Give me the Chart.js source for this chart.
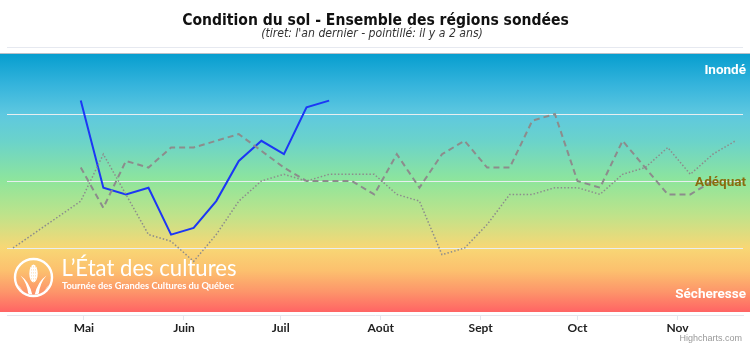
<!DOCTYPE html>
<html><head><meta charset="utf-8">
<script src="https://cdn.jsdelivr.net/npm/chart.js@4/dist/chart.umd.min.js"></script>
<style>html,body{margin:0;padding:0;background:#fff}canvas{display:block}</style>
</head><body>
<canvas id="c" width="750" height="343"></canvas>
<script>
// ---- data ----
const monthStarts = ['05-01','06-01','07-01','08-01','09-01','10-01','11-01'];
const monthLabels = ['Mai','Juin','Juil','Août','Sept','Oct','Nov'];
const weekDates = ['04-30','05-07','05-14','05-21','05-28','06-04','06-11','06-18','06-25','07-02',
  '07-09','07-16','07-23','07-30','08-06','08-13','08-20','08-27','09-03','09-10',
  '09-17','09-24','10-01','10-08','10-15','10-22','10-29','11-05','11-12','11-19'];
const twoYearsAgoDates = ['04-09'].concat(weekDates);
const thisYear = [3.2,1.9,1.8,1.9,1.2,1.3,1.7,2.3,2.6,2.4,3.1,3.2];
const lastYear = [2.2,1.6,2.3,2.2,2.5,2.5,2.6,2.7,2.45,2.2,2.0,2.0,2.0,1.8,2.4,1.9,2.4,2.6,2.2,2.2,2.9,3.0,2.0,1.9,2.6,2.2,1.8,1.8,2.0];
const twoYearsAgo = [1.0,1.7,2.4,1.8,1.2,1.1,0.8,1.2,1.7,2.0,2.1,2.0,2.1,2.1,2.1,1.8,1.7,0.9,1.0,1.35,1.8,1.8,1.9,1.9,1.8,2.1,2.2,2.5,2.1,2.4,2.6];
const bandLabels = [{text:'Inondé', value:3.64, color:'#ffffff'},{text:'Adéquat', value:1.97, color:'#8a6b10'},{text:'Sécheresse', value:0.30, color:'#ffffff'}];
const titleText = 'Condition du sol - Ensemble des régions sondées';
const subtitleText = "(tiret: l'an dernier - pointillé: il y a 2 ans)";

// ---- helpers ----
const cum = [0,31,59,90,120,151,181,212,243,273,304,334];
function dayOf(s){const [m,d]=s.split('-').map(Number);return cum[m-1]+d-1;}
const monthDays = monthStarts.map(dayOf);
function pts(dates, vals){return vals.map((v,i)=>({x:dayOf(dates[i]), y:v}));}

function fitSize(ctx, text, style, weight, family, target){
  ctx.font = `${style} ${weight} 20px ${family}`;
  return 20*target/ctx.measureText(text).width;
}
const condFamily = '"DejaVu Sans Condensed", "DejaVu Sans", sans-serif';

const deco = {
  id:'deco',
  beforeDraw(chart){
    const {ctx, chartArea:a} = chart;
    ctx.save();
    ctx.fillStyle = '#fff'; ctx.fillRect(0,0,chart.width,chart.height);
    const top = a.top+7, bot = a.bottom-3;
    const g = ctx.createLinearGradient(0, top, 0, bot);
    g.addColorStop(0, '#079ecf');
    g.addColorStop(0.12, '#35b4dc');
    g.addColorStop(0.233, '#5ec8e0');
    g.addColorStop(0.34, '#6bd3ca');
    g.addColorStop(0.49, '#8ee59c');
    g.addColorStop(0.62, '#bde38b');
    g.addColorStop(0.752, '#f8d775');
    g.addColorStop(0.84, '#fcc06e');
    g.addColorStop(0.92, '#fd966a');
    g.addColorStop(1, '#ff6464');
    ctx.fillStyle = g; ctx.fillRect(0, top, chart.width, bot-top);
    ctx.fillStyle = '#b9c0c8'; ctx.fillRect(0, top-1, chart.width, 1);
    ctx.restore();
  },
  beforeDatasetsDraw(chart){
    const {ctx} = chart;
    ctx.save();
    // logo circle
    const cx=33.5, cy=277.5, r=18.5;
    ctx.strokeStyle='#fff'; ctx.fillStyle='#fff'; ctx.lineWidth=2.4;
    ctx.beginPath(); ctx.arc(cx,cy,r,0,Math.PI*2); ctx.stroke();
    ctx.save();
    ctx.beginPath(); ctx.arc(cx,cy,r-1.5,0,Math.PI*2); ctx.clip();
    ctx.beginPath(); ctx.ellipse(cx, cy-4, 4.2, 9, 0, 0, Math.PI*2); ctx.fill();
    ctx.fillStyle='rgba(250,190,110,0.9)';
    for(let yy=-11; yy<=4; yy+=3){ for(let xx=-2; xx<=2; xx+=2){ ctx.fillRect(cx+xx-0.4, cy+yy, 0.8, 0.8);} }
    ctx.fillStyle='#fff';
    ctx.beginPath(); ctx.moveTo(cx-1, cy+18); ctx.quadraticCurveTo(cx-4, cy+4, cx-13, cy-2); ctx.quadraticCurveTo(cx-6, cy+6, cx-5, cy+18); ctx.closePath(); ctx.fill();
    ctx.beginPath(); ctx.moveTo(cx+1, cy+18); ctx.quadraticCurveTo(cx+4, cy+4, cx+13, cy-2); ctx.quadraticCurveTo(cx+6, cy+6, cx+5, cy+18); ctx.closePath(); ctx.fill();
    ctx.beginPath(); ctx.moveTo(cx-19, cy+6); ctx.quadraticCurveTo(cx-12, cy+8, cx-9, cy+19); ctx.lineTo(cx-19, cy+19); ctx.closePath(); ctx.fill();
    ctx.beginPath(); ctx.moveTo(cx+19, cy+6); ctx.quadraticCurveTo(cx+12, cy+8, cx+9, cy+19); ctx.lineTo(cx+19, cy+19); ctx.closePath(); ctx.fill();
    ctx.restore();
    ctx.fillStyle='#fff'; ctx.textAlign='left'; ctx.textBaseline='alphabetic';
    const t1 = 'L\u2019État des cultures';
    let s1 = fitSize(ctx, t1, 'normal', '400', 'Lato', 175);
    ctx.font = `normal 400 ${s1}px Lato`; ctx.fillText(t1, 61.5, 276);
    const t2 = 'Tournée des Grandes Cultures du Québec';
    let s2 = fitSize(ctx, t2, 'normal', '700', 'Lato', 172);
    ctx.font = `normal 700 ${s2}px Lato`; ctx.fillText(t2, 62, 288.5);
    ctx.restore();
  },
  afterDatasetsDraw(chart){
    const {ctx, chartArea:a, scales:{y}} = chart;
    ctx.save();
    ctx.textAlign='right'; ctx.textBaseline='middle';
    ctx.font = 'normal 700 13.5px Roboto';
    bandLabels.forEach(b=>{ ctx.fillStyle=b.color; ctx.fillText(b.text, a.right+3, y.getPixelForValue(b.value)); });
    ctx.restore();
  },
  afterDraw(chart){
    const {ctx} = chart;
    ctx.save();
    try { ctx.fontStretch = 'condensed'; } catch(e) {}
    ctx.textAlign='center'; ctx.textBaseline='alphabetic'; ctx.fillStyle='#111';
    const ts = fitSize(ctx, titleText, 'normal', '700', condFamily, 387);
    ctx.font = `normal 700 ${ts}px ${condFamily}`;
    ctx.fillText(titleText, 375.5, 25);
    ctx.fillStyle='#333';
    const ss = fitSize(ctx, subtitleText, 'italic', '400', condFamily, 222);
    ctx.font = `italic 400 ${ss}px ${condFamily}`;
    ctx.fillText(subtitleText, 372, 37);
    try { ctx.fontStretch = 'normal'; } catch(e) {}
    ctx.textAlign='right'; ctx.fillStyle='#999'; ctx.font='normal 400 9px "Liberation Sans"';
    ctx.fillText('Highcharts.com', 742, 341);
    ctx.restore();
  }
};

new Chart(document.getElementById('c'), {
  type:'line',
  data:{datasets:[
    {label:'Il y a 2 ans', data:pts(twoYearsAgoDates, twoYearsAgo), borderColor:'#8c8c8c', borderWidth:1.5, borderDash:[1.5,2], pointRadius:0, tension:0, fill:false},
    {label:"L'an dernier", data:pts(weekDates, lastYear), borderColor:'#8c8c8c', borderWidth:2, borderDash:[6,4], pointRadius:0, tension:0, fill:false},
    {label:'Cette année', data:pts(weekDates, thisYear), borderColor:'#1c37f5', borderWidth:2, pointRadius:0, tension:0, fill:false}
  ]},
  options:{
    responsive:false, animation:false, devicePixelRatio:1,
    layout:{padding:{top:47,left:7,right:7,bottom:0}},
    plugins:{legend:{display:false}, tooltip:{enabled:false}, title:{display:false}},
    scales:{
      x:{type:'linear', min:96.13, max:324.33,
        afterBuildTicks(s){ s.ticks = monthDays.map(v=>({value:v})); },
        afterFit(s){ s.height = 28; },
        ticks:{autoSkip:false, maxRotation:0, padding:1, color:'#222', font:{family:'Lato', weight:'700', size:12},
          callback(v){ const i = monthDays.indexOf(v); return i>=0 ? monthLabels[i] : ''; }},
        grid:{drawOnChartArea:false, drawTicks:true, tickLength:5, tickColor:'#e3e7ee'},
        border:{display:true, color:'#e3e7ee', width:1}
      },
      y:{min:0, max:4,
        afterBuildTicks(s){ s.ticks = [0,1,2,3,4].map(v=>({value:v})); },
        afterFit(s){ s.width = 0; },
        ticks:{display:false},
        grid:{drawTicks:false, color(c){ const v=c.tick.value; return v===0?'rgba(0,0,0,0)': (v===4?'#e6e9f0':'#e8eef0'); }},
        border:{display:false}
      }
    }
  },
  plugins:[deco]
});
</script>
</body></html>
